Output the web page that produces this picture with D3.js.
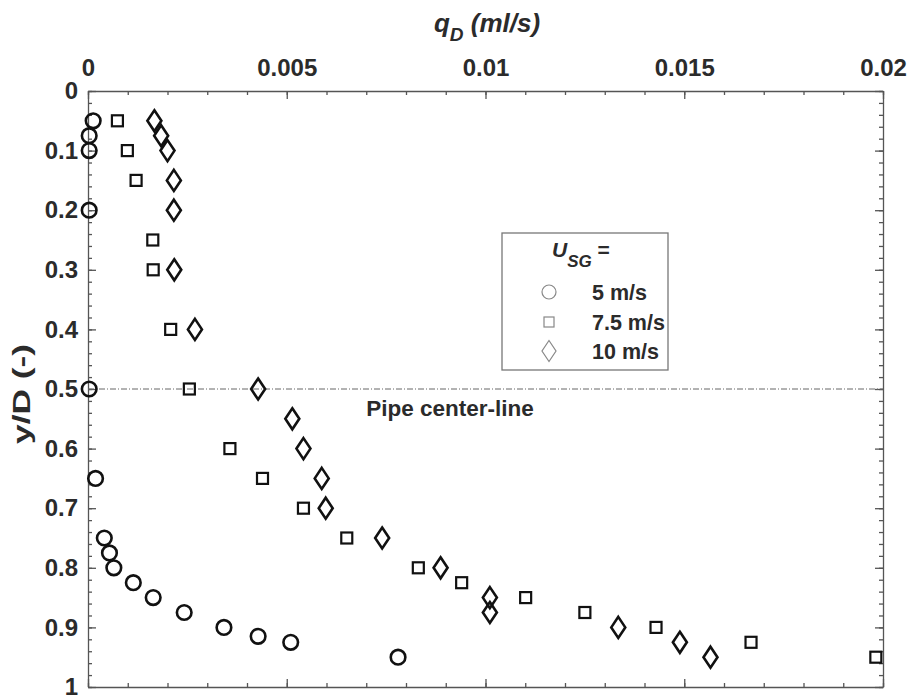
<!DOCTYPE html>
<html>
<head>
<meta charset="utf-8">
<script src="https://cdn.jsdelivr.net/npm/d3@7"></script>
<style>
  body { margin: 0; background: #fff; }
  svg text { font-family: "Liberation Sans", Arial, sans-serif; font-weight: bold; fill: #2b2b2b; }
  .axis path, .axis line { stroke: #555; stroke-width: 1.3; }
</style>
</head>
<body>
<svg id="chart" width="910" height="700"></svg>
<script>
// y/D levels and q_D values for each gas velocity
var y5 = [0.05, 0.075, 0.1, 0.2, 0.5, 0.65, 0.75, 0.775, 0.8, 0.825, 0.85, 0.875, 0.9, 0.915, 0.925, 0.95];
var q5 = [0.00013, 0.00003, 0.00003, 0.00003, 0.00003, 0.00019, 0.00041, 0.00054, 0.00065, 0.00114, 0.00164, 0.00242, 0.00342, 0.00428, 0.0051, 0.0078];

var y75 = [0.05, 0.1, 0.15, 0.25, 0.3, 0.4, 0.5, 0.6, 0.65, 0.7, 0.75, 0.8, 0.825, 0.85, 0.875, 0.9, 0.925, 0.95];
var q75 = [0.00074, 0.00099, 0.00121, 0.00163, 0.00164, 0.00208, 0.00255, 0.00357, 0.00439, 0.00542, 0.00651, 0.00831, 0.0094, 0.01101, 0.0125, 0.01429, 0.01668, 0.01982];

var y10 = [0.05, 0.075, 0.1, 0.15, 0.2, 0.3, 0.4, 0.5, 0.55, 0.6, 0.65, 0.7, 0.75, 0.8, 0.85, 0.875, 0.9, 0.925, 0.95];
var q10 = [0.00167, 0.00184, 0.002, 0.00216, 0.00216, 0.00217, 0.00269, 0.00428, 0.00514, 0.00542, 0.00588, 0.00598, 0.0074, 0.00887, 0.01011, 0.01011, 0.01334, 0.01489, 0.01566];

var xTicks = [0, 0.005, 0.01, 0.015, 0.02];
var xTickLabels = ["0", "0.005", "0.01", "0.015", "0.02"];
var yTicks = [0, 0.1, 0.2, 0.3, 0.4, 0.5, 0.6, 0.7, 0.8, 0.9, 1];
var yTickLabels = ["0", "0.1", "0.2", "0.3", "0.4", "0.5", "0.6", "0.7", "0.8", "0.9", "1"];
var legendLabels = ["5 m/s", "7.5 m/s", "10 m/s"];
var centerLine = 0.5;

var svg = d3.select("#chart");
var margin = {top: 91, right: 27, bottom: 13, left: 88}
    , width = 910 - margin.left - margin.right
    , height = 700 - margin.top - margin.bottom
    , g = svg.append("g").attr("transform", "translate(" + margin.left + "," + margin.top + ")")
    ;

var x = d3.scaleLinear().domain([0, 0.02]).range([0, width]);
var y = d3.scaleLinear().domain([0, 1]).range([0, height]);

var xMinor = d3.range(0, 21).map(function(i) { return i / 1000; });
var yMinor = d3.range(0, 51).map(function(i) { return i / 50; });

// minor ticks on all four sides
g.append("g").attr("class", "axis")
    .call(d3.axisTop(x).tickValues(xMinor).tickSize(-4).tickFormat(""))
    .select(".domain").remove();
g.append("g").attr("class", "axis").attr("transform", "translate(0," + height + ")")
    .call(d3.axisBottom(x).tickValues(xMinor).tickSize(-4).tickFormat(""))
    .select(".domain").remove();
g.append("g").attr("class", "axis")
    .call(d3.axisLeft(y).tickValues(yMinor).tickSize(-4).tickFormat(""))
    .select(".domain").remove();
g.append("g").attr("class", "axis").attr("transform", "translate(" + width + ",0)")
    .call(d3.axisRight(y).tickValues(yMinor).tickSize(-4).tickFormat(""))
    .select(".domain").remove();

// major axes
g.append("g").attr("class", "axis axis--x")
    .call(d3.axisTop(x).tickValues(xTicks).tickSizeInner(-8).tickSizeOuter(0).tickPadding(15)
        .tickFormat(function(d, i) { return xTickLabels[i]; }));
g.append("g").attr("class", "axis").attr("transform", "translate(0," + height + ")")
    .call(d3.axisBottom(x).tickValues(xTicks).tickSizeInner(-8).tickSizeOuter(0).tickFormat(""));
g.append("g").attr("class", "axis axis--y")
    .call(d3.axisLeft(y).tickValues(yTicks).tickSizeInner(-8).tickSizeOuter(0).tickPadding(10)
        .tickFormat(function(d, i) { return yTickLabels[i]; }));
g.append("g").attr("class", "axis").attr("transform", "translate(" + width + ",0)")
    .call(d3.axisRight(y).tickValues(yTicks).tickSizeInner(-8).tickSizeOuter(0).tickFormat(""));

svg.selectAll(".axis text")
    .style("font-size", "24px")
    .style("font-family", "'Liberation Sans', Arial, sans-serif")
    .style("font-weight", "bold")
    .attr("fill", "#2b2b2b");

// axis titles
var title = svg.append("text")
    .attr("x", 487)
    .attr("y", 32)
    .attr("text-anchor", "middle")
    .style("font-size", "26px")
    .style("font-style", "italic");
title.append("tspan").text("q");
title.append("tspan").attr("dy", 9).style("font-size", "19px").text("D");
title.append("tspan").attr("dy", -9).text(" (ml/s)");

svg.append("text")
    .attr("transform", "translate(30,394) rotate(-90)")
    .attr("text-anchor", "middle")
    .attr("textLength", 100)
    .attr("lengthAdjust", "spacingAndGlyphs")
    .style("font-size", "24px")
    .text("y/D (-)");

// pipe center-line
g.append("line")
    .attr("x1", 0)
    .attr("x2", width)
    .attr("y1", y(centerLine))
    .attr("y2", y(centerLine))
    .attr("stroke", "#666")
    .attr("stroke-width", 1)
    .attr("stroke-dasharray", "6,2,1,2");

g.append("text")
    .attr("x", x(0.0070))
    .attr("y", y(centerLine) + 27)
    .attr("text-anchor", "start")
    .style("font-size", "22.5px")
    .text("Pipe center-line");

function diamond(w, h) {
    return "M0," + (-h / 2) + "L" + (w / 2) + ",0L0," + (h / 2) + "L" + (-w / 2) + ",0Z";
}

function zip(qs, ys) {
    return qs.map(function(q, i) { return {q: q, y: ys[i]}; });
}

var markColor = "#111";

g.selectAll("circle.s5")
    .data(zip(q5, y5))
    .enter().append("circle")
    .attr("class", "s5")
    .attr("cx", function(d) { return x(d.q); })
    .attr("cy", function(d) { return y(d.y); })
    .attr("r", 7.3)
    .attr("fill", "none")
    .attr("stroke", markColor)
    .attr("stroke-width", 2.6);

g.selectAll("rect.s75")
    .data(zip(q75, y75))
    .enter().append("rect")
    .attr("class", "s75")
    .attr("x", function(d) { return x(d.q) - 5.5; })
    .attr("y", function(d) { return y(d.y) - 5.5; })
    .attr("width", 11)
    .attr("height", 11)
    .attr("fill", "none")
    .attr("stroke", markColor)
    .attr("stroke-width", 2.2);

g.selectAll("path.s10")
    .data(zip(q10, y10))
    .enter().append("path")
    .attr("class", "s10")
    .attr("transform", function(d) { return "translate(" + x(d.q) + "," + y(d.y) + ")"; })
    .attr("d", diamond(14, 21))
    .attr("fill", "none")
    .attr("stroke", markColor)
    .attr("stroke-width", 2.6)
    .attr("stroke-linejoin", "miter");

// legend
var legend = svg.append("g").attr("transform", "translate(502,233)");

legend.append("rect")
    .attr("width", 166)
    .attr("height", 137)
    .attr("fill", "#fff")
    .attr("stroke", "#777")
    .attr("stroke-width", 1.3);

var lt = legend.append("text")
    .attr("x", 50)
    .attr("y", 24)
    .style("font-size", "21px");
lt.append("tspan").style("font-style", "italic").text("U");
lt.append("tspan").attr("dy", 10).style("font-size", "17px").style("font-style", "italic").text("SG");
lt.append("tspan").attr("dy", -10).text(" =");

var rowY = [59, 89, 118];
var symX = 47;
var legendGray = "#888";

legend.append("circle")
    .attr("cx", symX).attr("cy", rowY[0]).attr("r", 7)
    .attr("fill", "none").attr("stroke", legendGray).attr("stroke-width", 1.2);
legend.append("rect")
    .attr("x", symX - 5).attr("y", rowY[1] - 5).attr("width", 10).attr("height", 10)
    .attr("fill", "none").attr("stroke", legendGray).attr("stroke-width", 1.2);
legend.append("path")
    .attr("transform", "translate(" + symX + "," + rowY[2] + ")")
    .attr("d", diamond(14, 21))
    .attr("fill", "none").attr("stroke", legendGray).attr("stroke-width", 1.2);

legend.selectAll("text.lab")
    .data(legendLabels)
    .enter().append("text")
    .attr("class", "lab")
    .attr("x", 90)
    .attr("y", function(d, i) { return rowY[i] + 8; })
    .style("font-size", "21.5px")
    .text(function(d) { return d; });
</script>
</body>
</html>
